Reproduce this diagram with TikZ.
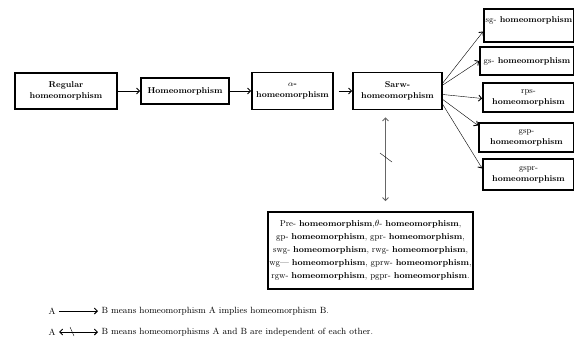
\documentclass[tikz,border=0pt]{standalone}
\usetikzlibrary{arrows.meta}
\begin{document}
\begin{tikzpicture}[x=1pt,y=-1pt,>={Straight Barb[length=3pt,width=6pt,line width=0.9pt]},
  box/.style={draw, line width=1.6pt, align=center, inner sep=1pt, font=\fontsize{8.5}{11}\selectfont\bfseries},
  lst/.style={font=\fontsize{8.6}{13}\selectfont},
  legend/.style={font=\fontsize{9}{11}\selectfont}]
\useasboundingbox (0,0) rectangle (574,343);
% Draw the chain of boxes
\node[box, minimum width=102pt, minimum height=36pt] (reg) at (66,91) {Regular\\homeomorphism};
\node[box, minimum width=88pt, minimum height=26pt] (homeo) at (185,91) {Homeomorphism};
\node[box, minimum width=81pt, minimum height=37pt] (alpha) at (292.5,91) {$\alpha$-\\homeomorphism};
\node[box, minimum width=89pt, minimum height=37pt] (sarw) at (397.5,91) {Sarw-\\homeomorphism};
\draw[->, thin] (reg) -- (homeo);
\draw[->, thin] (homeo) -- (alpha);
\draw[->, thin, shorten <=5pt] (alpha) -- (sarw);
% Boxes on the right, all implied by Sarw
\node[box, minimum width=90pt, minimum height=33pt] (sg) at (529,25.5) {{\mdseries sg-} homeomorphism\\\mbox{}};
\node[box, minimum width=94pt, minimum height=28pt] (gs) at (527,61) {{\mdseries gs-} homeomorphism};
\node[box, minimum width=91pt, minimum height=29pt] (rps) at (528.5,97.5) {{\mdseries rps-}\\homeomorphism};
\node[box, minimum width=95pt, minimum height=29pt, line width=2pt] (gsp) at (526.5,137.5) {{\mdseries gsp-}\\homeomorphism};
\node[box, minimum width=91pt, minimum height=31pt] (gspr) at (528.5,174.5) {{\mdseries gspr-}\\homeomorphism};
\foreach \n/\s/\e in {sg/8/-6, gs/6/0, rps/-3.5/-1, gsp/-8.5/12, gspr/-13.5/6}
{
  \draw[->, thin] ([yshift=\s pt]sarw.east) -- ([yshift=\e pt]\n.west);
}
% The independent ones
\node[box, minimum width=205pt, minimum height=77pt, lst] (indep) at (370.5,250.5)
  {Pre- \textbf{homeomorphism},$\theta$- \textbf{homeomorphism},\\
   gp- \textbf{homeomorphism}, gpr- \textbf{homeomorphism},\\
   swg- \textbf{homeomorphism}, rwg- \textbf{homeomorphism},\\
   wg--- \textbf{homeomorphism}, gprw- \textbf{homeomorphism},\\
   rgw- \textbf{homeomorphism}, pgpr- \textbf{homeomorphism}.};
\draw[<->, gray!80!black, line width=0.8pt, shorten <=7pt, shorten >=10pt] ([xshift=-12pt]sarw.south) -- ([xshift=-12pt]sarw.south |- indep.north);
\draw[thin] (380,153) -- (392,162);
% Legend
\node[legend] (a1) at (52,311) {A};
\node[legend, anchor=west] (b1) at (98,311) {B means homeomorphism A implies homeomorphism B.};
\draw[->, thin] (a1) -- (b1);
\node[legend] (a2) at (52,332) {A};
\node[legend, anchor=west] (b2) at (98,332) {B means homeomorphisms A and B are independent of each other.};
\draw[<->, thin] (a2) -- (b2);
\draw[thin] (70,327) -- (74,336);
\end{tikzpicture}
\end{document}
